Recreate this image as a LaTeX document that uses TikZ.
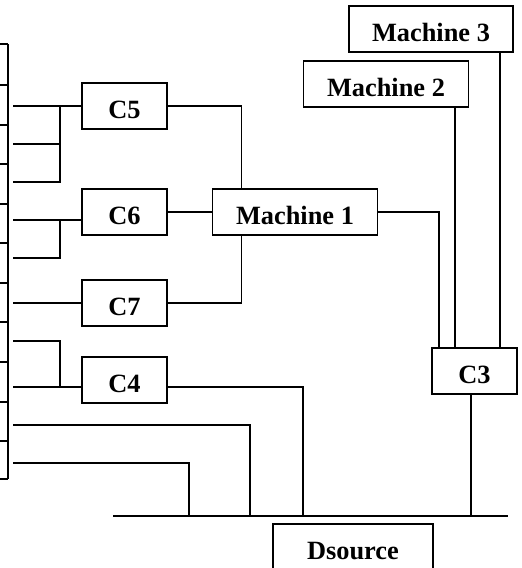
\documentclass[tikz,border=0pt]{standalone}
\usepackage{fontspec}
\setmainfont{Liberation Serif}
\usetikzlibrary{positioning,calc}

\begin{document}
\begin{tikzpicture}[
      x=0.02cm, y=-0.02cm, % 1 unit = 1 px of the sheet
      line width=0.9pt,
      box/.style={draw, line width=1pt, inner sep=0pt, minimum width=1.7cm, minimum height=0.92cm,
        font=\fontsize{15}{18}\selectfont\bfseries, text height=14.5pt, text depth=0pt},
      machine/.style={box, minimum width=3.3cm}, % wide boxes
      cell/.style={line width=1.3pt}
    ]
\useasboundingbox (0,0) rectangle (521,568);

% left column of cells
\draw[cell] (8,44) -- (8,479);
\foreach \y in {44,85,125,164,204,243,283,322,362,402,441,479}
  \draw[cell] (0,\y) -- (8,\y);

% row outlets
\foreach \n/\y in {1/106,2/144,3/182,4/220,5/258,6/303,7/341,8/387,9/425,10/463}
  \coordinate (r\n) at (13,\y);

% boxes
\node[box] (c5) at (124.5,106) {C5};
\node[box] (c6) at (124.5,212) {C6};
\node[box] (c7) at (124.5,303) {C7};
\node[box] (c4) at (124.5,380) {C4};
\node[machine] (m1) at (295,212) {Machine 1};
\node[machine] (m2) at (386,84) {Machine 2};
\node[machine, minimum width=3.28cm] (m3) at (431,29) {Machine 3};
\node[box] (c3) at (474.5,371) {C3};
\node[machine, minimum width=3.2cm] (ds) at (353,547) {Dsource};

% bus
\coordinate (busL) at (113,516);
\coordinate (busR) at (508,516);
\draw (busL) -- (busR);
\coordinate (b1) at (189,516);
\coordinate (b2) at (250,516);
\coordinate (b3) at (303,516);
\coordinate (b4) at (471,516);

% rows into the C boxes
\draw (r1) -- (c5);
\draw (r3) -| (60,106);
\draw (r2) -- (r2 -| 60,0);
\draw (r4) -- (r4 -| c6.west);
\draw (r5) -| (r4 -| 60,0);
\draw (r6) -- (c7);
\draw (r7) -| (r8 -| 60,0);
\draw (r8) -- (r8 -| c4.west);
\draw (r9) -| (b2);
\draw (r10) -| (b1);
\draw (r8 -| c4.east) -| (b3);

% into Machine 1
\draw (c5) -| ($(m1.north west)+(30,0)$);
\draw (c6) -- (m1);
\draw (c7) -| ($(m1.south west)+(30,0)$);

% into C3
\coordinate (k1) at ($(c3.north west)+(8,0)$);
\coordinate (k2) at ($(c3.north west)+(24,0)$);
\coordinate (k3) at ($(c3.north west)+(69,0)$);
\draw (m1) -| (k1);
\draw (k2) -- (k2 |- m2.south);
\draw (k3) -- (k3 |- m3.south);
\draw (b4 |- c3.south) -- (b4);
\end{tikzpicture}
\end{document}
